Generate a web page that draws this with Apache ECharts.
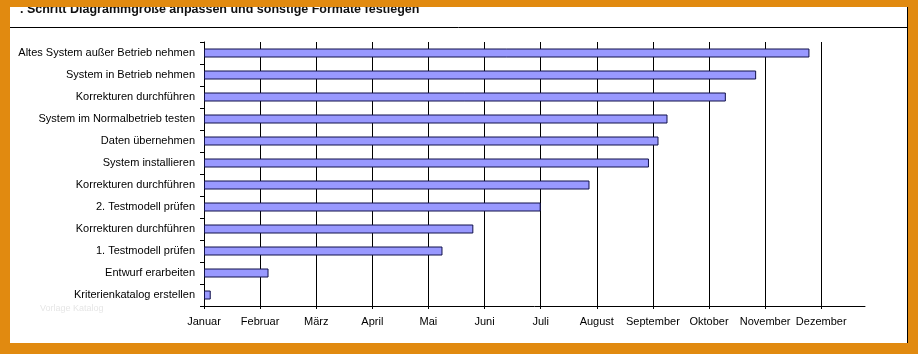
<!DOCTYPE html>
<html>
<head>
<meta charset="utf-8">
<script src="https://cdn.jsdelivr.net/npm/echarts@6/dist/echarts.min.js"></script>
<style>
  html, body { margin: 0; padding: 0; background: #fff; }
  #main { width: 918px; height: 354px; }
</style>
</head>
<body>
<div id="main"></div>
<script>
// task names, top to bottom
const tasks = [
  'Altes System außer Betrieb nehmen',
  'System in Betrieb nehmen',
  'Korrekturen durchführen',
  'System im Normalbetrieb testen',
  'Daten übernehmen',
  'System installieren',
  'Korrekturen durchführen',
  '2. Testmodell prüfen',
  'Korrekturen durchführen',
  '1. Testmodell prüfen',
  'Entwurf erarbeiten',
  'Kriterienkatalog erstellen'
];
// end of each task, in months counted from Januar
const taskEnds = [10.79, 9.84, 9.30, 8.26, 8.10, 7.93, 6.87, 6.0, 4.80, 4.25, 1.15, 0.12];
const months = ['Januar', 'Februar', 'März', 'April', 'Mai', 'Juni', 'Juli',
  'August', 'September', 'Oktober', 'November', 'Dezember'];
const monthTicks = months.map((m, i) => i);

const font = '"Liberation Sans", Arial, sans-serif';
const orange = '#E18A10';

const chart = echarts.init(document.getElementById('main'));
const option = {
  backgroundColor: '#fff',
  animation: false,
  grid: { left: 204, right: 53, top: 42, bottom: 48 },
  xAxis: {
    type: 'value',
    min: 0,
    max: 11.78,
    interval: 1,
    axisLine: { show: true, lineStyle: { color: '#000', width: 1 } },
    axisTick: { show: true, length: 3, customValues: monthTicks, lineStyle: { color: '#000' } },
    axisLabel: {
      customValues: monthTicks,
      formatter: v => months[v] || '',
      color: '#000', fontSize: 11, fontFamily: font, margin: 10
    },
    splitLine: { show: true, showMinLine: false, showMaxLine: true, lineStyle: { color: '#000', width: 1 } }
  },
  yAxis: {
    type: 'category',
    inverse: true,
    data: tasks,
    axisLine: { show: true, lineStyle: { color: '#000', width: 1 } },
    axisTick: { show: true, length: 4, lineStyle: { color: '#000' } },
    axisLabel: { color: '#000', fontSize: 11, fontFamily: font, margin: 9 },
    splitLine: { show: false }
  },
  series: [{
    type: 'bar',
    data: taskEnds,
    barWidth: 9,
    itemStyle: { color: '#9999FF', borderColor: '#10104a', borderWidth: 1 }
  }],
  graphic: [
    { type: 'text', left: 20, top: 3, z: 10,
      style: { text: '. Schritt Diagrammgröße anpassen und sonstige Formate festlegen',
        fill: '#111', font: 'bold 12.5px ' + font } },
    { type: 'line', z: 10, shape: { x1: 10, y1: 27.5, x2: 907, y2: 27.5 },
      style: { stroke: '#000', lineWidth: 1 } },
    { type: 'line', z: 10, shape: { x1: 907.5, y1: 7, x2: 907.5, y2: 343 },
      style: { stroke: '#000', lineWidth: 1 } },
    { type: 'text', left: 40, top: 304, z: 10,
      style: { text: 'Vorlage Katalog', fill: '#e6e6e6', font: '9px ' + font } },
    { type: 'rect', z: 20, shape: { x: 0, y: 0, width: 918, height: 7 }, style: { fill: orange } },
    { type: 'rect', z: 20, shape: { x: 0, y: 343, width: 918, height: 11 }, style: { fill: orange } },
    { type: 'rect', z: 20, shape: { x: 0, y: 0, width: 10, height: 354 }, style: { fill: orange } },
    { type: 'rect', z: 20, shape: { x: 908, y: 0, width: 10, height: 354 }, style: { fill: orange } }
  ]
};
chart.setOption(option);
</script>
</body>
</html>
